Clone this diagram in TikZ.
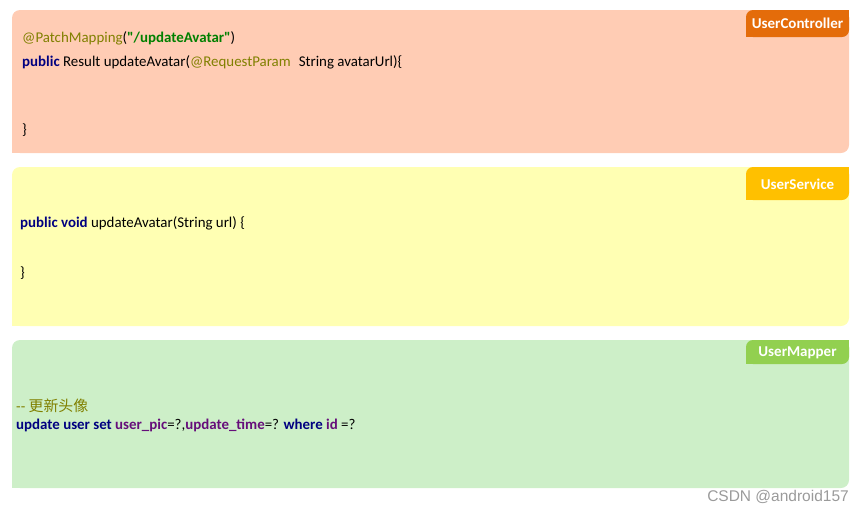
\documentclass[tikz,border=0pt]{standalone}
\usepackage{fontspec}
\setmainfont{Carlito}
\newfontfamily\cjk{Noto Sans CJK SC}
\newfontfamily\wmfont{Liberation Sans}
\definecolor{peach}{HTML}{FFCCB4}
\definecolor{tagorange}{HTML}{E46C0A}
\definecolor{paleyellow}{HTML}{FFFFB3}
\definecolor{taggold}{HTML}{FFC000}
\definecolor{palegreen}{HTML}{CDEFC8}
\definecolor{taggreen}{HTML}{92D050}
\definecolor{kwolive}{HTML}{808000}
\definecolor{strgreen}{HTML}{008000}
\definecolor{kwnavy}{HTML}{000080}
\definecolor{fldpurple}{HTML}{660E7A}
\definecolor{wmgray}{HTML}{9A9A9A}
\newcommand{\kw}[1]{\textcolor{kwnavy}{\bfseries #1}}
\newcommand{\fld}[1]{\textcolor{fldpurple}{\bfseries #1}}
\begin{document}
\begin{tikzpicture}[x=1pt,y=-1pt,
  codetext/.style={anchor=base west,inner sep=0pt,font=\fontsize{14.9}{17}\selectfont},
  tagtext/.style={anchor=center,inner sep=0pt,text=white,font=\fontsize{15}{17}\selectfont\bfseries}]
\useasboundingbox (0,0) rectangle (865,512);
% panel 1
\fill[peach,rounded corners=8pt] (12,10) rectangle (849,153);
\fill[peach] (12,130) rectangle (40,153);
\fill[tagorange,rounded corners=7pt] (746,10) rectangle (849,37);
\fill[tagorange] (746,25) rectangle (760,37);
\fill[tagorange] (830,10) rectangle (849,20);
\node[tagtext] (t1) at (797.5,23.5) {UserController};
\node[codetext] (c1a) at (22,42) {\textcolor{kwolive}{@PatchMapping}(\textcolor{strgreen}{\bfseries\textquotedbl/updateAvatar\textquotedbl})};
\node[codetext] (c1b) at (22,66) {\kw{public} Result updateAvatar(\textcolor{kwolive}{@RequestParam}\hspace{8pt}String avatarUrl)\{};
\node[codetext] (c1c) at (22,134) {\}};
% panel 2
\fill[paleyellow,rounded corners=8pt] (12,167) rectangle (849,326);
\fill[paleyellow] (12,300) rectangle (40,326);
\fill[taggold,rounded corners=7pt] (746,167) rectangle (849,200);
\fill[taggold] (746,185) rectangle (760,200);
\fill[taggold] (830,167) rectangle (849,180);
\node[tagtext] (t2) at (797.5,184.5) {UserService};
\node[codetext] (c2a) at (20,227) {\kw{public void} updateAvatar(String url) \{};
\node[codetext] (c2b) at (20,277) {\}};
% panel 3
\fill[palegreen,rounded corners=8pt] (12,340) rectangle (849,488);
\fill[palegreen] (12,465) rectangle (40,488);
\fill[taggreen,rounded corners=7pt] (746,340) rectangle (849,364);
\fill[taggreen] (746,352) rectangle (760,364);
\fill[taggreen] (830,340) rectangle (849,350);
\node[tagtext] (t3) at (797.5,352.5) {UserMapper};
\node[codetext] (c3a) at (16,411) {\textcolor{kwolive}{-{}- {\cjk 更新头像}}};
\node[codetext] (c3b) at (16,429) {\kw{update user set} \fld{user\_pic}=?,\fld{update\_time}=? \kw{where} \fld{id} =?};
% watermark
\node[anchor=base east,inner sep=0pt,text=wmgray,font=\wmfont\fontsize{15.5}{17}\selectfont] (wm) at (849,501) {CSDN @android157};
\end{tikzpicture}
\end{document}
